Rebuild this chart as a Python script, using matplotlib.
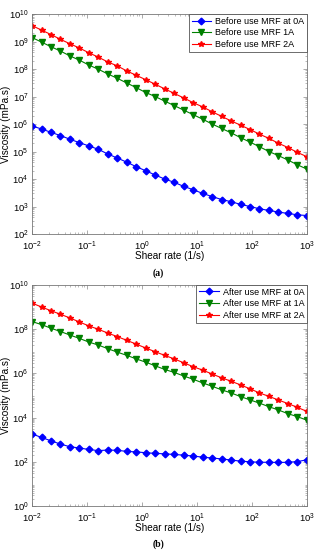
import matplotlib
matplotlib.use('Agg')
import matplotlib.pyplot as plt
from matplotlib.ticker import LogLocator, NullFormatter

plt.rcParams['font.family'] = ['Liberation Sans', 'DejaVu Sans']
plt.rcParams['mathtext.fontset'] = 'custom'
plt.rcParams['mathtext.rm'] = 'Liberation Sans'

# shear rate (1/s), 30 points per sweep
shear_rate = [0.01, 0.0149, 0.0221, 0.0329, 0.0489, 0.0728, 0.108, 0.161, 0.240, 0.356,
              0.530, 0.788, 1.17, 1.74, 2.59, 3.86, 5.74, 8.53, 12.7, 18.9,
              28.1, 41.8, 62.1, 92.4, 137, 204, 304, 452, 672, 1000]

# (a) before use
before_0A = [8.5e5, 6.6e5, 5.0e5, 3.8e5, 2.8e5, 2.1e5, 1.6e5, 1.2e5, 8.1e4, 5.8e4,
             4.1e4, 2.8e4, 2.0e4, 1.4e4, 1.0e4, 7.6e3, 5.4e3, 4.1e3, 3.0e3, 2.3e3,
             1.8e3, 1.5e3, 1.2e3, 1.0e3, 830, 720, 630, 560, 500, 470]
before_1A = [1.4e9, 9.5e8, 6.5e8, 4.5e8, 3.0e8, 2.1e8, 1.4e8, 9.8e7, 6.6e7, 4.6e7,
             3.1e7, 2.1e7, 1.4e7, 1.0e7, 6.8e6, 4.7e6, 3.2e6, 2.2e6, 1.5e6, 1.0e6,
             6.9e5, 4.8e5, 3.2e5, 2.2e5, 1.5e5, 1.0e5, 7.1e4, 4.9e4, 3.3e4, 2.3e4]
before_2A = [3.8e9, 2.6e9, 1.8e9, 1.2e9, 8.3e8, 5.8e8, 3.9e8, 2.7e8, 1.8e8, 1.3e8,
             8.5e7, 5.9e7, 4.1e7, 2.8e7, 1.9e7, 1.3e7, 8.9e6, 6.0e6, 4.2e6, 2.8e6,
             1.9e6, 1.3e6, 9.1e5, 6.3e5, 4.3e5, 3.0e5, 2.0e5, 1.4e5, 9.3e4, 6.5e4]

# (b) after use
after_0A = [1820, 1260, 890, 630, 480, 420, 360, 320, 340, 330,
            295, 280, 257, 240, 229, 214, 200, 182, 162, 148,
            135, 120, 107, 100, 95, 95, 93, 95, 102, 123]
after_1A = [2.2e8, 1.6e8, 1.1e8, 7.8e7, 5.4e7, 3.8e7, 2.6e7, 1.9e7, 1.3e7, 9.1e6,
            6.5e6, 4.5e6, 3.2e6, 2.2e6, 1.5e6, 1.1e6, 7.6e5, 5.4e5, 3.7e5, 2.6e5,
            1.8e5, 1.3e5, 8.9e4, 6.3e4, 4.5e4, 3.1e4, 2.2e4, 1.5e4, 1.1e4, 7.6e3]
after_2A = [1.5e9, 1.0e9, 6.8e8, 4.7e8, 3.2e8, 2.1e8, 1.4e8, 9.8e7, 6.6e7, 4.6e7,
            3.1e7, 2.1e7, 1.4e7, 9.5e6, 6.5e6, 4.5e6, 3.0e6, 2.0e6, 1.4e6, 9.3e5,
            6.3e5, 4.4e5, 3.0e5, 2.0e5, 1.3e5, 9.1e4, 6.2e4, 4.3e4, 2.9e4, 1.9e4]

labels_a = ['Before use MRF at 0A', 'Before use MRF 1A', 'Before use MRF 2A']
labels_b = ['After use MRF at 0A', 'After use MRF at 1A', 'After use MRF at 2A']

BLUE, GREEN, RED = '#0000ff', '#008000', '#ff0000'


def style_axes(ax, ylim, yticks):
    ax.set_xscale('log')
    ax.set_yscale('log')
    ax.set_xlim(1e-2, 1e3)
    ax.set_ylim(*ylim)
    ax.set_xticks([1e-2, 1e-1, 1e0, 1e1, 1e2, 1e3])
    ax.set_yticks(yticks)
    ax.xaxis.set_minor_locator(LogLocator(base=10, subs=range(2, 10), numticks=20))
    ax.yaxis.set_minor_locator(LogLocator(base=10, subs=range(2, 10), numticks=20))
    ax.xaxis.set_minor_formatter(NullFormatter())
    ax.yaxis.set_minor_formatter(NullFormatter())
    ax.tick_params(which='both', direction='in', top=True, right=True,
                   labelsize=6.8, colors='#888888', labelcolor='black', pad=2.5)
    ax.tick_params(axis='x', which='major', pad=4)
    ax.tick_params(which='major', length=3, width=0.5)
    ax.tick_params(which='minor', length=1.5, width=0.4)
    for s in ax.spines.values():
        s.set_color('#777777')
        s.set_linewidth(0.6)
    ax.set_xlabel('Shear rate (1/s)', fontsize=7.2, labelpad=-1)
    ax.set_ylabel('Viscosity (mPa.s)', fontsize=7.2)
    ax.yaxis.set_label_coords(-0.078, 0.5)


def draw(ax, y0, y1, y2, labels):
    ax.plot(shear_rate, y0, '-D', color=BLUE, ms=3.4, lw=0.8, label=labels[0])
    ax.plot(shear_rate, y1, '-v', color=GREEN, ms=4.4, lw=0.8, label=labels[1])
    ax.plot(shear_rate, y2, '-*', color=RED, ms=4.4, lw=0.8, label=labels[2])
    leg = ax.legend(loc='upper right', fontsize=6.5, frameon=True, fancybox=False,
                    borderaxespad=0, borderpad=0.3, handlelength=2.2,
                    handletextpad=0.4, labelspacing=0.3, framealpha=1)
    leg.get_frame().set_edgecolor('#555555')
    leg.get_frame().set_linewidth(0.6)


fig = plt.figure(figsize=(3.17, 5.5), dpi=100)
ax1 = fig.add_axes([0.101, 0.5745, 0.867, 0.4])
ax2 = fig.add_axes([0.101, 0.08, 0.867, 0.402])

draw(ax1, before_0A, before_1A, before_2A, labels_a)
style_axes(ax1, (1e2, 1e10), [10.0 ** k for k in range(2, 11)])

draw(ax2, after_0A, after_1A, after_2A, labels_b)
style_axes(ax2, (1e0, 1e10), [10.0 ** k for k in range(0, 11, 2)])

fig.text(0.5, 1 - 273 / 550, '(a)', ha='center', va='center', fontsize=7,
         family='Liberation Serif', weight='bold')
fig.text(0.5, 1 - 544 / 550, '(b)', ha='center', va='center', fontsize=7,
         family='Liberation Serif', weight='bold')

fig.savefig('out.png', dpi=100)
